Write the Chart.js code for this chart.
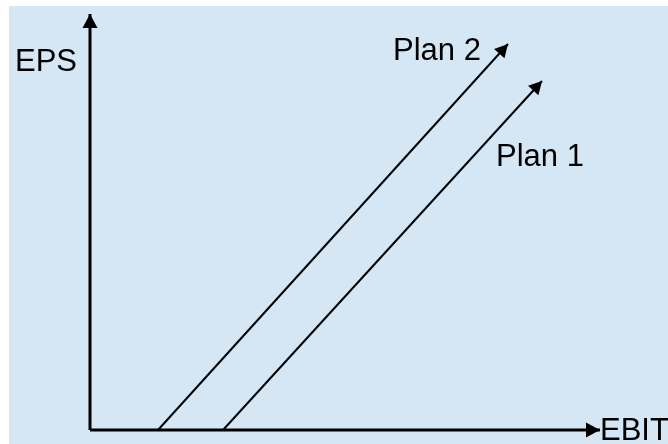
<!DOCTYPE html>
<html>
<head>
<meta charset="utf-8">
<script src="https://cdn.jsdelivr.net/npm/chart.js@4/dist/chart.umd.min.js"></script>
<style>
  html, body { margin: 0; padding: 0; background: #ffffff; }
  #wrap { position: relative; width: 668px; height: 444px; }
</style>
</head>
<body>
<div id="wrap"><canvas id="eps-chart" width="668" height="444"></canvas></div>
<script>
// EBIT-EPS chart (schematic, arbitrary units: origin at EBIT 0 / EPS 0)

// axis extents
var ebitAxis = [{ x: 0, y: 0 }, { x: 51, y: 0 }];
var epsAxis  = [{ x: 0, y: 0 }, { x: 0, y: 41.6 }];

// financing plans (EBIT, EPS)
var plan1 = [{ x: 13.3, y: 0 }, { x: 45.2, y: 34.9 }];
var plan2 = [{ x: 6.8,  y: 0 }, { x: 41.8, y: 38.6 }];

// texts
var axisTitles = ["EPS", "EBIT"];
var planNames  = ["Plan 1", "Plan 2"];

var BG   = "#d5e7f5";
var INK  = "#000000";
var FONT = "31px 'Liberation Sans', Arial, sans-serif";

// fondo azul claro (deja un margen blanco arriba/izquierda)
var bgPlugin = {
  id: "bg",
  beforeDraw: function(chart) {
    var c = chart.ctx;
    c.save();
    c.fillStyle = BG;
    c.fillRect(9, 6, chart.width - 9, chart.height - 6);
    c.restore();
  }
};

// puntas de flecha al final de cada serie
var arrowPlugin = {
  id: "arrows",
  afterDatasetsDraw: function(chart) {
    var c = chart.ctx;
    chart.data.datasets.forEach(function(ds, i) {
      if (!ds.arrow) return;
      var pts = chart.getDatasetMeta(i).data;
      var a = pts[pts.length - 2], b = pts[pts.length - 1];
      var ang = Math.atan2(b.y - a.y, b.x - a.x);
      var len = ds.arrow.len, half = ds.arrow.half;
      c.save();
      c.fillStyle = INK;
      c.translate(b.x, b.y);
      c.rotate(ang);
      c.beginPath();
      c.moveTo(0, 0);
      c.lineTo(-len, -half);
      c.lineTo(-len, half);
      c.closePath();
      c.fill();
      c.restore();
    });
  }
};

// textos: EPS, EBIT, Plan 1, Plan 2
var labelPlugin = {
  id: "labels",
  afterDraw: function(chart) {
    var c = chart.ctx;
    var xs = chart.scales.x, ys = chart.scales.y;
    var items = [
      { t: axisTitles[0], x: -7.5, y: 35.9 },
      { t: axisTitles[1], x: 51,   y: -1.0 },
      { t: planNames[1],  x: 30.3, y: 37.0 },
      { t: planNames[0],  x: 40.6, y: 26.4 }
    ];
    c.save();
    c.font = FONT;
    c.fillStyle = INK;
    c.textAlign = "left";
    c.textBaseline = "alphabetic";
    items.forEach(function(it) {
      c.fillText(it.t, xs.getPixelForValue(it.x), ys.getPixelForValue(it.y));
    });
    c.restore();
  }
};

function lineDs(label, data, width, arrow) {
  return {
    label: label,
    data: data,
    showLine: true,
    borderColor: INK,
    backgroundColor: INK,
    borderWidth: width,
    borderCapStyle: "butt",
    pointRadius: 0,
    pointHoverRadius: 0,
    fill: false,
    tension: 0,
    clip: false,
    arrow: arrow
  };
}

new Chart(document.getElementById("eps-chart"), {
  type: "scatter",
  data: {
    datasets: [
      lineDs("EBIT", ebitAxis, 3, { len: 14, half: 7.5 }),
      lineDs("EPS",  epsAxis,  3, { len: 14, half: 7.5 }),
      lineDs("Plan 1", plan1, 2, { len: 13, half: 7 }),
      lineDs("Plan 2", plan2, 2, { len: 13, half: 7 })
    ]
  },
  options: {
    responsive: false,
    animation: false,
    devicePixelRatio: 1,
    layout: { padding: 0 },
    plugins: {
      legend: { display: false },
      title: { display: false },
      tooltip: { enabled: false }
    },
    scales: {
      x: { type: "linear", display: false, min: -9,   max: 57.8 },
      y: { type: "linear", display: false, min: -1.4, max: 43.0 }
    }
  },
  plugins: [bgPlugin, arrowPlugin, labelPlugin]
});
</script>
</body>
</html>
